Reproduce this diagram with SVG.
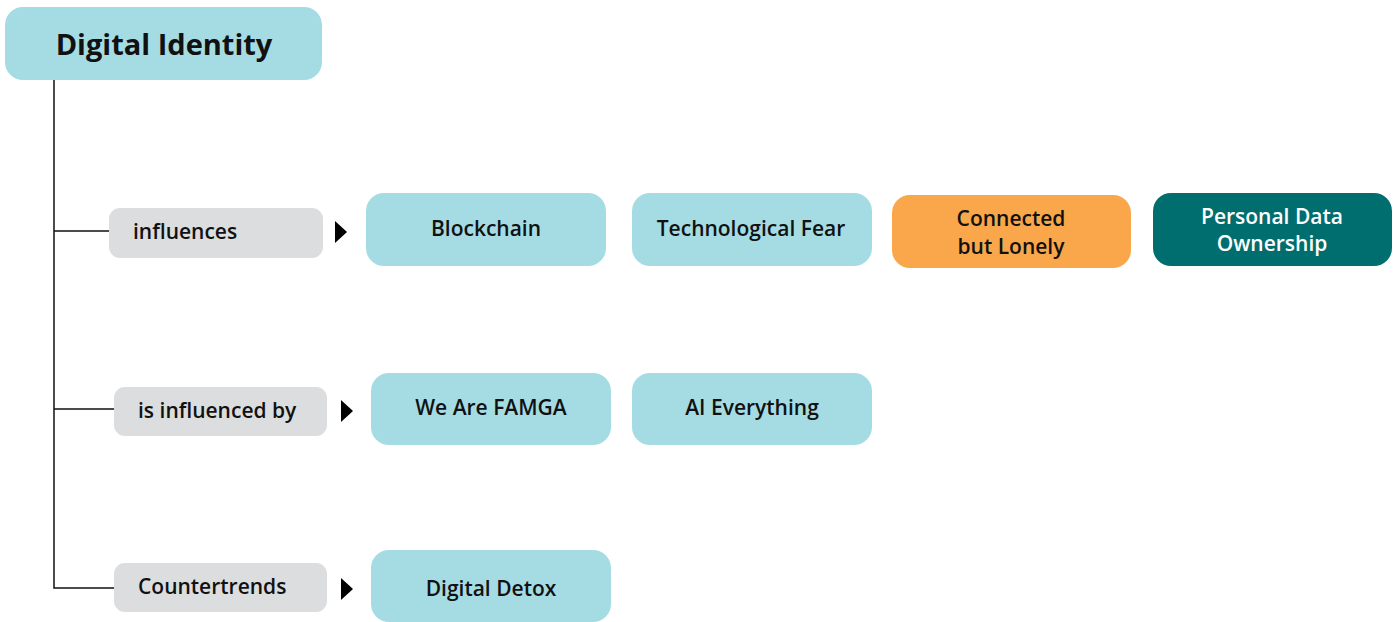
<svg xmlns="http://www.w3.org/2000/svg" width="1398" height="622" viewBox="0 0 1398 622">
<style>
.t{font-family:"Open Sans","Noto Sans","Liberation Sans",sans-serif;font-weight:600;font-size:21px;fill:#111;}
.c{text-anchor:middle;}
.blue{fill:#A5DCE4;}
.grey{fill:#DCDDDF;}
.ln{stroke:#111;stroke-width:1.5;fill:none;}
.arr{fill:#000;}
</style>
<rect width="1398" height="622" fill="#fff"/>
<g id="connectors">
<path class="ln" d="M54 80 V588 H114 M54 231 H109 M54 409 H114"/>
<polygon class="arr" points="335,221 347,232 335,243"/>
<polygon class="arr" points="341,400 353,411 341,422"/>
<polygon class="arr" points="341,578 353,589 341,600"/>
</g>
<g id="digital-identity">
<rect class="blue" x="5" y="7" width="317" height="73" rx="18"/>
<text class="t c" x="164" y="55" style="font-size:29px;font-weight:700">Digital Identity</text>
</g>
<g id="label-influences">
<rect class="grey" x="109" y="208" width="214" height="50" rx="11"/>
<text class="t" x="133" y="239">influences</text>
</g>
<g id="label-influenced-by">
<rect class="grey" x="114" y="387" width="213" height="49" rx="11"/>
<text class="t" x="138" y="418">is influenced by</text>
</g>
<g id="label-countertrends">
<rect class="grey" x="114" y="563" width="213" height="49" rx="11"/>
<text class="t" x="138" y="594">Countertrends</text>
</g>
<g id="blockchain">
<rect class="blue" x="366" y="193" width="240" height="73" rx="18"/>
<text class="t c" x="486" y="236">Blockchain</text>
</g>
<g id="technological-fear">
<rect class="blue" x="632" y="193" width="240" height="73" rx="18"/>
<text class="t c" x="751" y="236">Technological Fear</text>
</g>
<g id="connected-but-lonely">
<rect x="892" y="195" width="239" height="73" rx="18" fill="#F9A74A"/>
<text class="t c" x="1011" y="226">Connected</text>
<text class="t c" x="1011" y="254">but Lonely</text>
</g>
<g id="personal-data-ownership">
<rect x="1153" y="193" width="239" height="73" rx="18" fill="#006D6E"/>
<text class="t c" x="1272" y="224" style="fill:#fff">Personal Data</text>
<text class="t c" x="1272" y="251" style="fill:#fff">Ownership</text>
</g>
<g id="we-are-famga">
<rect class="blue" x="371" y="373" width="240" height="72" rx="18"/>
<text class="t c" x="491" y="415">We Are FAMGA</text>
</g>
<g id="ai-everything">
<rect class="blue" x="632" y="373" width="240" height="72" rx="18"/>
<text class="t c" x="752" y="415">AI Everything</text>
</g>
<g id="digital-detox">
<rect class="blue" x="371" y="550" width="240" height="72" rx="18"/>
<text class="t c" x="491" y="596">Digital Detox</text>
</g>
</svg>
